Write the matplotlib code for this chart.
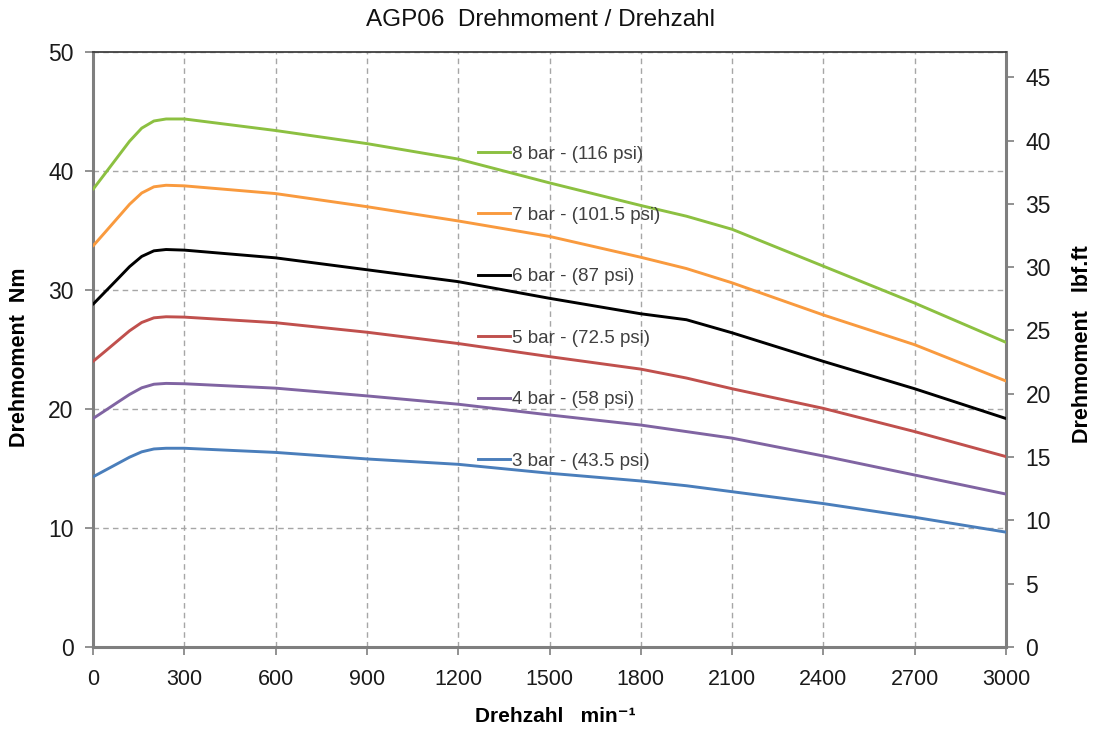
import matplotlib
matplotlib.use("Agg")
import matplotlib.pyplot as plt
from matplotlib.lines import Line2D

plt.rcParams["font.family"] = ["Liberation Sans", "DejaVu Sans"]

# Drehzahl (min^-1) and Drehmoment (Nm)
rpm = [0, 40, 80, 120, 160, 200, 240, 300, 600, 900, 1200, 1500, 1800, 1950, 2100, 2400, 2700, 3000]

bar8 = [38.46, 39.8, 41.15, 42.5, 43.6, 44.2, 44.37, 44.37, 43.4, 42.3, 41.0, 39.0, 37.1, 36.2, 35.1, 32.0, 28.9, 25.6]
bar7 = [33.7, 34.86, 36.03, 37.2, 38.15, 38.67, 38.8, 38.75, 38.1, 37.0, 35.8, 34.5, 32.75, 31.8, 30.6, 27.9, 25.4, 22.35]
bar6 = [28.8, 29.85, 30.9, 31.96, 32.82, 33.29, 33.4, 33.35, 32.7, 31.7, 30.7, 29.3, 28.0, 27.5, 26.4, 24.0, 21.7, 19.2]
bar5 = [24.0, 24.85, 25.71, 26.57, 27.27, 27.66, 27.75, 27.72, 27.25, 26.45, 25.5, 24.4, 23.35, 22.6, 21.7, 20.05, 18.1, 16.0]
bar4 = [19.2, 19.87, 20.55, 21.22, 21.78, 22.08, 22.15, 22.12, 21.75, 21.1, 20.4, 19.5, 18.65, 18.1, 17.55, 16.05, 14.45, 12.85]
bar3 = [14.3, 14.85, 15.4, 15.95, 16.4, 16.64, 16.7, 16.7, 16.35, 15.8, 15.35, 14.6, 13.95, 13.55, 13.05, 12.05, 10.9, 9.65]

series = [bar8, bar7, bar6, bar5, bar4, bar3]
labels = ["8 bar - (116 psi)", "7 bar - (101.5 psi)", "6 bar - (87 psi)",
          "5 bar - (72.5 psi)", "4 bar - (58 psi)", "3 bar - (43.5 psi)"]
colors = ["#8cc041", "#f99a3e", "#000000", "#c0504d", "#8064a2", "#4a7ebb"]

x_ticks = list(range(0, 3001, 300))
left_ticks = [0, 10, 20, 30, 40, 50]
right_ticks = [0, 5, 10, 15, 20, 25, 30, 35, 40, 45]

fig = plt.figure(figsize=(11.01, 7.29), dpi=100)
ax = fig.add_axes([0.0845, 0.1125, 0.8292, 0.8162])

for vals, col in zip(series, colors):
    ax.plot(rpm, vals, color=col, lw=2.1, solid_capstyle="round",
            solid_joinstyle="round", zorder=3)

ax.set_xlim(0, 3000)
ax.set_ylim(0, 50)
ax.set_xticks(x_ticks)
ax.set_yticks(left_ticks)
ax.grid(True, color="#a6a6a6", linestyle=(0, (4, 3)), lw=1.0)

gray = "#7f7f7f"
for side in ["left", "bottom", "right"]:
    ax.spines[side].set_color(gray)
    ax.spines[side].set_linewidth(2.2)
ax.spines["top"].set_color("#404040")
ax.spines["top"].set_linewidth(1.3)
ax.tick_params(axis="both", direction="out", length=6, width=1.2, color=gray,
               labelcolor="#1a1a1a", pad=8)
ax.tick_params(axis="x", labelsize=15.5, pad=10)
ax.tick_params(axis="y", labelsize=16.5)

ax2 = ax.twinx()
ax2.set_ylim(0, 47)
ax2.set_yticks(right_ticks)
for side in ["left", "bottom", "right", "top"]:
    ax2.spines[side].set_visible(False)
ax2.tick_params(axis="y", direction="out", length=6, width=1.2, color=gray,
                labelsize=16.5, labelcolor="#1a1a1a", pad=8)

handles = [Line2D([], [], color=c, lw=2.1) for c in colors]
leg = ax.legend(handles, labels, loc="upper left", bbox_to_anchor=(0.4217, 0.8428),
                frameon=False, fontsize=13.5, handlelength=1.7, handletextpad=0.1,
                labelspacing=2.36, borderpad=0, borderaxespad=0)
for t in leg.get_texts():
    t.set_color("#404040")

fig.text(0.4905, 0.9726, "AGP06  Drehmoment / Drehzahl", ha="center", va="center",
         fontsize=17.5, color="#111111")
fig.text(0.504, 0.0165, "Drehzahl   min⁻¹", ha="center", va="center",
         fontsize=15, fontweight="bold")
fig.text(0.018, 0.51, "Drehmoment  Nm", ha="center", va="center", rotation=90,
         fontsize=15.5, fontweight="bold")
fig.text(0.9835, 0.528, "Drehmoment   lbf.ft", ha="center", va="center", rotation=90,
         fontsize=15.5, fontweight="bold")

fig.savefig("out.png", dpi=100)
